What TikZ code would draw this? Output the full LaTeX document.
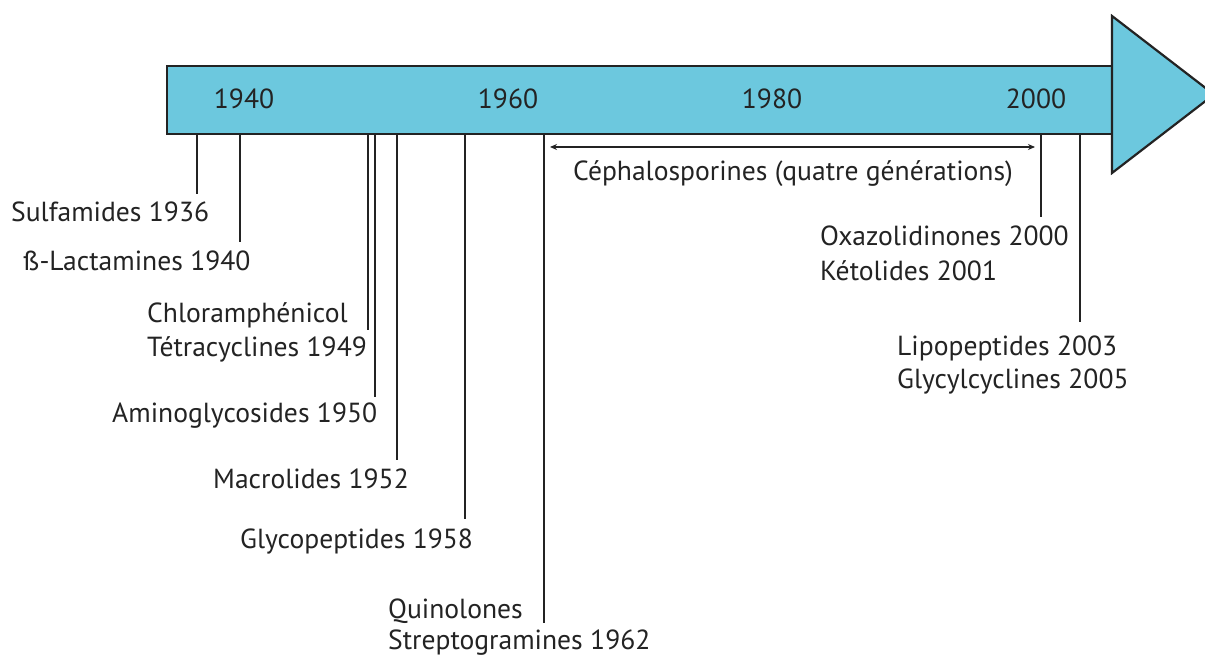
\documentclass[tikz,border=0pt]{standalone}
\usepackage{fontspec}
\setmainfont{PT Sans}
\usetikzlibrary{arrows.meta}
\definecolor{band}{RGB}{108,200,222}
\definecolor{ink}{RGB}{35,35,35}
\begin{document}
\begin{tikzpicture}[x=1pt,y=-1pt,
  lbl/.style={inner sep=0pt, font=\fontsize{27.6}{33}\selectfont, text=ink},
  tickline/.style={draw=ink, line width=2pt},
  shapeline/.style={draw=ink, line width=2.2pt, fill=band, line join=miter}]
\useasboundingbox (0,0) rectangle (1205,658);
\fill[white] (0,0) rectangle (1205,658);
\clip (0,0) rectangle (1205,658);
% band and head
\draw[shapeline] (167,66) rectangle (1112,134);
\draw[shapeline] (1112,16) -- (1214,94.5) -- (1112,173) -- cycle;
% years
\node[lbl, anchor=base] (y1940) at (244,109) {1940};
\node[lbl, anchor=base] (y1960) at (508,109) {1960};
\node[lbl, anchor=base] (y1980) at (772,109) {1980};
\node[lbl, anchor=base] (y2000) at (1036,109) {2000};
% tick coordinates
\foreach \n/\x/\e in {t36/197/194, t40/240/242, t49/368/330, t50/375/397, t52/397/460, t58/465/519, t62/544/623, t00/1041/217, t03/1080/322}{
  \coordinate (\n a) at (\x,134);
  \coordinate (\n b) at (\x,\e);
  \draw[tickline] (\n a) -- (\n b);
}
% cephalosporines
\coordinate (ca) at (550,147);
\coordinate (cb) at (1035,147);
\draw[draw=ink, line width=1.6pt, {Stealth[length=7pt,width=6pt]}-{Stealth[length=7pt,width=6pt]}] (ca) -- (cb);
\node[lbl, anchor=base west] (ceph) at (573,181) {Céphalosporines (quatre générations)};
% labels
\node[lbl, anchor=base west] (l36) at (11,221) {Sulfamides 1936};
\node[lbl, anchor=base west] (l40) at (23,270) {ß-Lactamines 1940};
\node[lbl, anchor=base west] (l49a) at (147,322) {Chloramphénicol};
\node[lbl, anchor=base west] (l49b) at (147,356) {Tétracyclines 1949};
\node[lbl, anchor=base west] (l50) at (112,422) {Aminoglycosides 1950};
\node[lbl, anchor=base west] (l52) at (213,488) {Macrolides 1952};
\node[lbl, anchor=base west] (l58) at (240,548) {Glycopeptides 1958};
\node[lbl, anchor=base west] (l62a) at (388,618) {Quinolones};
\node[lbl, anchor=base west] (l62b) at (388,649) {Streptogramines 1962};
\node[lbl, anchor=base west] (l00a) at (820,245) {Oxazolidinones 2000};
\node[lbl, anchor=base west] (l00b) at (820,280) {Kétolides 2001};
\node[lbl, anchor=base west] (l03a) at (897,355) {Lipopeptides 2003};
\node[lbl, anchor=base west] (l03b) at (897,388) {Glycylcyclines 2005};
\end{tikzpicture}
\end{document}
